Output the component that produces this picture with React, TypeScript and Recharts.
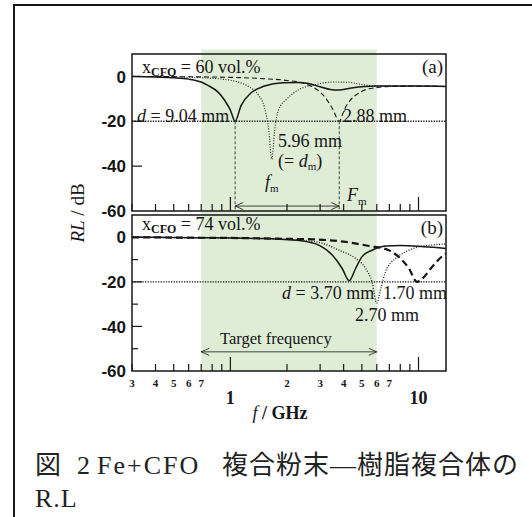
import React from 'react';
import { ComposedChart, Line, XAxis, YAxis, ReferenceArea, ReferenceLine } from 'recharts';

// panel (a)  x_CFO = 60 vol.%
const freqA904 = [0.3, 0.4, 0.5, 0.6, 0.7, 0.76, 0.86, 0.93, 1.0, 1.06, 1.14, 1.29, 1.52, 1.9, 2.3, 2.6, 3.0, 3.4, 3.65, 4.0, 4.5, 5.2, 6, 8, 10, 14];
const rlA904 = [0, -0.3, -0.6, -1.2, -2.5, -4, -7, -10.5, -15, -20, -13, -7.3, -4.3, -2.8, -2.7, -3.2, -4.6, -5.8, -6.1, -5.8, -5, -4.5, -4.3, -4.3, -4.3, -4.5];

const freqA596 = [0.3, 0.5, 0.7, 0.9, 1.1, 1.25, 1.4, 1.52, 1.6, 1.66, 1.72, 1.8, 2.0, 2.3, 2.85, 3.5, 4.2, 5, 6, 8, 14];
const rlA596 = [0, -0.2, -0.6, -1.2, -2.5, -4.5, -8, -14, -24, -37, -24, -15, -10, -6, -3.6, -2.5, -2.6, -3.6, -4.3, -4.3, -4.5];

const freqA288 = [0.3, 0.5, 0.7, 1.0, 1.5, 2.0, 2.5, 2.9, 3.2, 3.5, 3.79, 4.05, 4.3, 4.7, 5.2, 6, 7, 9, 11, 14];
const rlA288 = [0, -0.1, -0.2, -0.4, -1, -1.8, -3.3, -6, -9.5, -14.5, -20, -14.5, -11, -8, -6, -5, -4.5, -4.3, -4.3, -4.5];

// panel (b)  x_CFO = 74 vol.%
const freqB370 = [0.3, 0.5, 0.7, 1.0, 1.5, 1.82, 2.33, 2.97, 3.48, 3.93, 4.28, 4.63, 5.0, 5.66, 6.68, 8, 10, 12, 14];
const rlB370 = [0, -0.1, -0.2, -0.3, -0.6, -0.9, -1.5, -3.6, -8, -14, -19.5, -14, -8.8, -5.8, -3.9, -3.7, -4, -4.5, -5];

const freqB270 = [0.3, 0.7, 1.0, 1.5, 2.0, 2.5, 2.97, 3.78, 4.63, 5.24, 5.66, 6.0, 6.3, 6.68, 7.55, 8.5, 10, 12, 14];
const rlB270 = [0, -0.2, -0.3, -0.6, -1, -1.5, -2.3, -5.8, -9.5, -14, -20, -29.5, -23, -15.5, -9.5, -6.6, -4.3, -3.4, -3];

const freqB170 = [0.3, 0.7, 1.0, 1.5, 2.0, 2.73, 4.1, 5.45, 6.95, 7.85, 8.9, 9.8, 10.2, 10.7, 11.8, 13.6, 14];
const rlB170 = [0, -0.2, -0.3, -0.5, -0.7, -0.9, -2.1, -3.9, -5.8, -8.8, -14, -20, -19.5, -17.8, -13.3, -8, -7.3];

// markers
const fmA = 1.06;
const FmA = 3.79;
const targetBand = [0.7, 6];
const rlLimit = -20;

const xTicks = [0.3, 0.4, 0.5, 0.6, 0.7, 0.8, 0.9, 1, 2, 3, 4, 5, 6, 7, 8, 9, 10];
const xTickLabels = ['3', '4', '5', '6', '7', '', '', '1', '2', '3', '4', '5', '6', '7', '', '', '10'];
const yTicksA = [10, 0, -20, -40, -60];
const yLabelsA = ['', '0', '-20', '-40', '-60'];
const yTicksB = [10, 0, -10, -20, -30, -40, -50, -60];
const yLabelsB = ['', '0', '', '-20', '', '-40', '', '-60'];

const zip = (f: number[], r: number[]) => f.map((v, i) => ({ f: v, rl: r[i] }));

const INK = '#161616';
const SERIF = '"Liberation Serif", "Times New Roman", serif';
const CAPTION_FONT = '"Liberation Serif", "Noto Sans CJK JP", serif';

const makeXTick = (showLabels: boolean) => (props: any) => {
  const { x, y, payload } = props;
  const i = xTicks.indexOf(payload.value);
  const lab = xTickLabels[i];
  const major = payload.value === 1 || payload.value === 10;
  return (
    <g>
      <line x1={x} x2={x} y1={y} y2={y - (major ? 14 : 7)} stroke={INK} strokeWidth={1.2} />
      {showLabels && lab !== '' && (
        <text x={x} y={major ? y + 33 : y + 16} textAnchor="middle" fontFamily={SERIF} fontWeight="bold" fontSize={major ? 18 : 11} fill={INK}>
          {lab}
        </text>
      )}
    </g>
  );
};

const makeYTick = (ticks: number[], labels: string[]) => (props: any) => {
  const { x, y, payload } = props;
  const i = ticks.indexOf(payload.value);
  const lab = labels[i];
  const major = lab !== '';
  if (payload.value === 10) return <g />;
  return (
    <g>
      {payload.value > -60 && <line x1={x} x2={x + (major ? 10 : 6)} y1={y} y2={y} stroke={INK} strokeWidth={1.2} />}
      {lab !== '' && (
        <text x={x - 6} y={y} dy="0.36em" textAnchor="end" fontFamily='"Liberation Sans", Arial, sans-serif' fontWeight="bold" fontSize={17} fill={INK}>
          {lab}
        </text>
      )}
    </g>
  );
};

const DoubleArrow = (props: any) => {
  const { x1, y1, x2, y2 } = props;
  const h = 8;
  const w = 3.5;
  return (
    <g stroke={INK} strokeWidth={0.8} fill="none">
      <line x1={x1} y1={y1} x2={x2} y2={y2} />
      <polyline points={`${x1 + h},${y1 - w} ${x1},${y1} ${x1 + h},${y1 + w}`} />
      <polyline points={`${x2 - h},${y2 - w} ${x2},${y2} ${x2 - h},${y2 + w}`} />
    </g>
  );
};

const Panel = ({ height, top, bottom, xAxisH, showX, yTicks, yLabels, children }: any) => (
  <ComposedChart width={532} height={height} margin={{ top, left: 92, right: 86, bottom }}>
    <XAxis
      dataKey="f"
      type="number"
      scale="log"
      domain={[0.3, 14]}
      allowDataOverflow
      ticks={xTicks}
      interval={0}
      tick={makeXTick(showX)}
      tickLine={false}
      axisLine={false}
      tickSize={0}
      tickMargin={0}
      height={xAxisH}
    />
    <YAxis
      type="number"
      domain={[-60, 10]}
      allowDataOverflow
      ticks={yTicks}
      interval={0}
      tick={makeYTick(yTicks, yLabels)}
      tickLine={false}
      axisLine={false}
      tickSize={0}
      tickMargin={0}
      width={40}
    />
    <ReferenceArea x1={targetBand[0]} x2={targetBand[1]} y1={-60} y2={12} ifOverflow="visible" fill="#dfedd6" fillOpacity={1} stroke="none" />
    <ReferenceLine y={rlLimit} stroke={INK} strokeWidth={1.4} strokeDasharray="1.3 1.3" />
    {children}
    <ReferenceArea x1={0.3} x2={14} y1={-60} y2={10} ifOverflow="visible" fill="none" stroke={INK} strokeWidth={1.5} />
  </ComposedChart>
);

const T = (p: any) => <text fontFamily={SERIF} fontSize={18} fill={INK} {...p} />;

export default function App() {
  return (
    <div style={{ position: 'absolute', left: 0, top: 0, width: 532, height: 517, background: '#fff', overflow: 'hidden' }}>
      <div style={{ position: 'absolute', left: 13, top: 4, width: 540, height: 540, borderTop: `2px solid ${INK}`, borderLeft: `2px solid ${INK}` }} />

      <div style={{ position: 'absolute', left: 0, top: 0 }}>
        <Panel height={420} top={215} bottom={29} xAxisH={20} showX yTicks={yTicksB} yLabels={yLabelsB}>
          <Line data={zip(freqB370, rlB370)} dataKey="rl" type="monotone" dot={false} isAnimationActive={false} stroke={INK} strokeWidth={1.5} />
          <Line data={zip(freqB270, rlB270)} dataKey="rl" type="monotone" dot={false} isAnimationActive={false} stroke={INK} strokeWidth={1.3} strokeDasharray="1 1.6" />
          <Line data={zip(freqB170, rlB170)} dataKey="rl" type="monotone" dot={false} isAnimationActive={false} stroke={INK} strokeWidth={2.2} strokeDasharray="7 4" />
          <ReferenceLine segment={[{ x: targetBand[0], y: -51.4 }, { x: targetBand[1], y: -51.4 }]} shape={DoubleArrow} />
        </Panel>
      </div>

      <div style={{ position: 'absolute', left: 0, top: 0 }}>
        <Panel height={230} top={54} bottom={9} xAxisH={10} showX={false} yTicks={yTicksA} yLabels={yLabelsA}>
          <Line data={zip(freqA904, rlA904)} dataKey="rl" type="monotone" dot={false} isAnimationActive={false} stroke={INK} strokeWidth={1.5} />
          <Line data={zip(freqA596, rlA596)} dataKey="rl" type="monotone" dot={false} isAnimationActive={false} stroke={INK} strokeWidth={1.1} strokeDasharray="1 1.6" />
          <Line data={zip(freqA288, rlA288)} dataKey="rl" type="monotone" dot={false} isAnimationActive={false} stroke={INK} strokeWidth={1.1} strokeDasharray="5 3" />
          <ReferenceLine segment={[{ x: fmA, y: rlLimit }, { x: fmA, y: -60 }]} stroke={INK} strokeWidth={0.8} strokeDasharray="3 2" />
          <ReferenceLine segment={[{ x: FmA, y: rlLimit }, { x: FmA, y: -60 }]} stroke={INK} strokeWidth={0.8} strokeDasharray="3 2" />
          <ReferenceLine segment={[{ x: fmA, y: -57.8 }, { x: FmA, y: -57.8 }]} shape={DoubleArrow} />
        </Panel>
      </div>

      <svg width={532} height={517} style={{ position: 'absolute', left: 0, top: 0, pointerEvents: 'none' }}>
        <T x={142} y={73}>
          x<tspan fontSize={12} fontWeight="bold" dy={3}>CFO</tspan>
          <tspan dy={-3}> = 60 vol.%</tspan>
        </T>
        <T x={443} y={73} textAnchor="end" fontSize={19}>(a)</T>
        <T x={137} y={122}>
          <tspan fontStyle="italic">d</tspan> = 9.04 mm
        </T>
        <T x={343} y={122}>2.88 mm</T>
        <T x={278} y={147}>5.96 mm</T>
        <T x={278} y={167}>
          (= <tspan fontStyle="italic">d</tspan>
          <tspan fontSize={11} dy={3}>m</tspan>
          <tspan dy={-3}>)</tspan>
        </T>
        <T x={265} y={188}>
          <tspan fontStyle="italic">f</tspan>
          <tspan fontSize={11} dy={4}>m</tspan>
        </T>
        <T x={347} y={201}>
          <tspan fontStyle="italic">F</tspan>
          <tspan fontSize={11} dy={4}>m</tspan>
        </T>

        <T x={142} y={230}>
          x<tspan fontSize={12} fontWeight="bold" dy={3}>CFO</tspan>
          <tspan dy={-3}> = 74 vol.%</tspan>
        </T>
        <T x={443} y={234} textAnchor="end" fontSize={19}>(b)</T>
        <T x={282} y={299}>
          <tspan fontStyle="italic">d</tspan> = 3.70 mm
        </T>
        <T x={383} y={299}>1.70 mm</T>
        <T x={355} y={321}>2.70 mm</T>
        <T x={220} y={344} fontSize={16.5}>Target frequency</T>

        <T x={77} y={213} dy="0.35em" textAnchor="middle" fontSize={19} transform="rotate(-90 77 213)">
          <tspan fontStyle="italic">RL</tspan> / dB
        </T>
        <T x={280} y={419} textAnchor="middle" fontWeight="bold">
          <tspan fontStyle="italic" fontWeight="normal">f</tspan> / GHz
        </T>

        <text y={474} fontFamily={CAPTION_FONT} fontSize={26} fill="#222">
          <tspan x={35}>図</tspan>
          <tspan x={77}>2</tspan>
          <tspan x={97} letterSpacing={2}>Fe+CFO</tspan>
          <tspan x={222} letterSpacing={1}>複合粉末―樹脂複合体の</tspan>
        </text>
        <text x={35} y={507} fontFamily={CAPTION_FONT} fontSize={26} fill="#222" letterSpacing={1}>
          R.L
        </text>
      </svg>
    </div>
  );
}
